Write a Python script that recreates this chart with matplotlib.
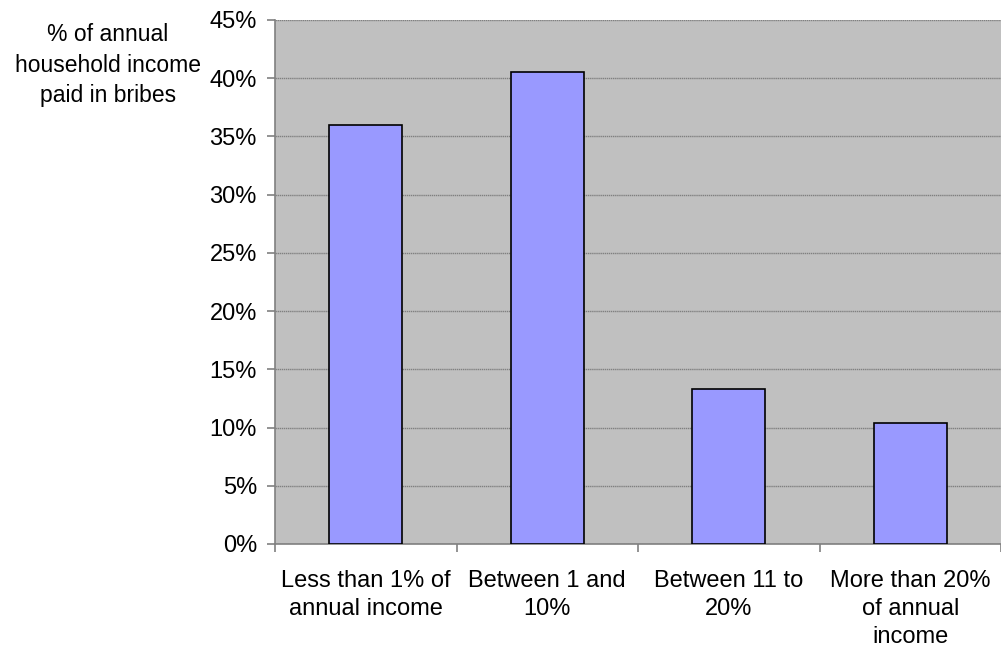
import matplotlib
matplotlib.use("Agg")
import matplotlib.pyplot as plt
import numpy as np

categories = ["Less than 1% of\nannual income", "Between 1 and\n10%", "Between 11 to\n20%", "More than 20%\nof annual\nincome"]
values = [36.0, 40.5, 13.3, 10.4]
yticks = [0, 5, 10, 15, 20, 25, 30, 35, 40, 45]
ylabel = "% of annual\nhousehold income\npaid in bribes"

plt.rcParams['font.family'] = ['Liberation Sans', 'DejaVu Sans']

W, H = 1001, 650
fig = plt.figure(figsize=(W/100, H/100), dpi=100)
left, right, top, bottom = 275, 1001, 20, 544
ax = fig.add_axes([left/W, 1 - bottom/H, (right-left)/W, (bottom-top)/H])
ax.set_facecolor('#C0C0C0')

FS = 17
x = np.arange(len(categories))
ax.bar(x, values, width=0.4, color='#9999FF', edgecolor='black', linewidth=1.2, zorder=3)
ax.set_xlim(-0.5, len(categories) - 0.5)
ax.set_ylim(0, 45)
ax.set_yticks(yticks)
ax.set_yticklabels([f"{v}%" for v in yticks], fontsize=FS)
ax.yaxis.grid(True, color='#808080', linewidth=1, linestyle=(0, (1, 0.5)), zorder=1)
ax.set_axisbelow(True)

ax.set_xticks(np.arange(len(categories) + 1) - 0.5)
ax.set_xticklabels([])
ax.set_xticks(x, minor=True)
ax.set_xticklabels(categories, minor=True, fontsize=FS, linespacing=1.35)
ax.tick_params(axis='x', which='minor', length=0, pad=19)
ax.tick_params(axis='x', which='major', length=6, color='#808080', width=1.2, direction='out')
ax.tick_params(axis='y', length=6, color='#808080', width=1.2, direction='out', pad=7)

for s in ['top', 'right']:
    ax.spines[s].set_visible(False)
for s in ['left', 'bottom']:
    ax.spines[s].set_color('#808080')
    ax.spines[s].set_linewidth(1.2)

fig.text(108/W, 1 - 65/H, ylabel, ha='center', va='center', fontsize=16.5, linespacing=1.4)

fig.savefig("out.png", dpi=100)
